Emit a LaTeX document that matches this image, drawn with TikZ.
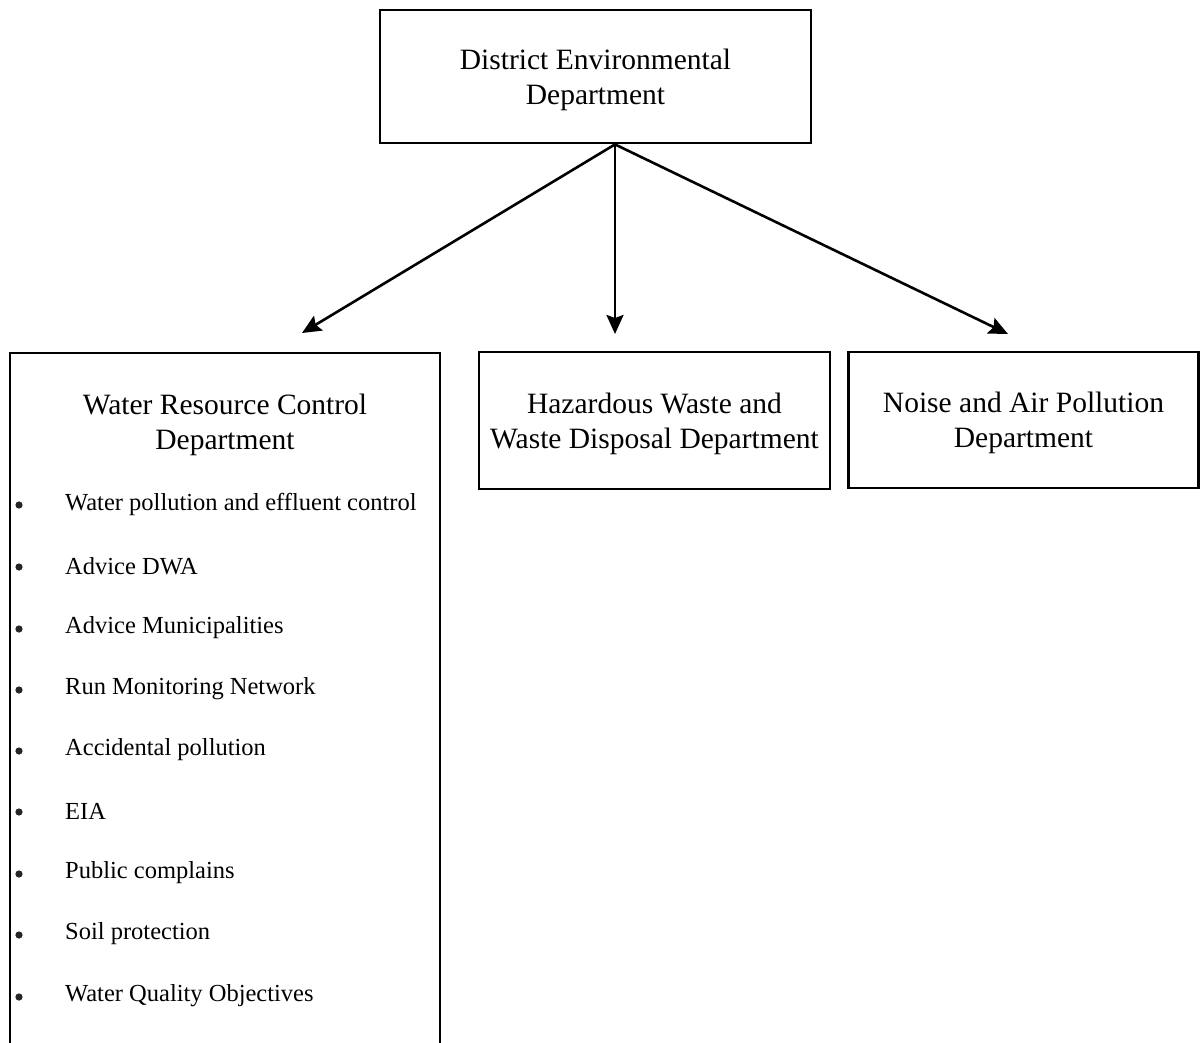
\documentclass[tikz,border=0pt]{standalone}
\usepackage{fontspec}
\setmainfont{Liberation Serif}
\usetikzlibrary{arrows.meta}

\begin{document}
\begin{tikzpicture}[x=1pt,y=-1pt]
		\tikzset{dept/.style={draw=black, line width=2.8pt, inner sep=0pt},
			head/.style={align=center, inner sep=0pt, font=\fontsize{29.5}{35}\selectfont},
			link/.style={line width=2.6pt, -{Stealth[length=19pt,width=17pt,inset=3pt]}},
			duty/.style={anchor=west, inner sep=0pt, font=\fontsize{24.5}{28}\selectfont}}
		\useasboundingbox (0,0) rectangle (1200,1042);
		\clip (0,0) rectangle (1200,1042);
		% boxes
		\node [dept, minimum width=431, minimum height=133] (top) at (595.5,76.5) {};
		\node [dept, minimum width=351, minimum height=137] (hazard) at (654.5,420.5) {};
		\node [dept, minimum width=350, minimum height=136] (noise) at (1023.5,420) {};
		\draw [line width=2.8pt] (10,1080) -- (10,353) -- (440,353) -- (440,1080);
		% titles
		\node [head] (toptext) at ([yshift=-3.5pt]top.center) {District Environmental\\Department};
		\node [head] (hazardtext) at ([yshift=-3.5pt]hazard.center) {Hazardous Waste and\\Waste Disposal Department};
		\node [head] (noisetext) at ([yshift=-3pt]noise.center) {Noise and Air Pollution\\Department};
		\node [head] (water) at (225,424.5) {Water Resource Control\\Department};
		% arrows
		\coordinate (wtip) at (302,333);
		\coordinate (htip) at (615,334);
		\coordinate (ntip) at (1008,334);
		\draw [link] (top.south -| htip) -- (wtip);
		\draw [link] (top.south -| htip) -- (htip);
		\draw [link] (top.south -| htip) -- (ntip);
		% duties
		\foreach \y/\t in {505/Water pollution and effluent control, 567/Advice DWA, 629/Advice Municipalities,
			690/Run Monitoring Network, 751/Accidental pollution, 812/EIA, 874/Public complains,
			935/Soil protection, 997/Water Quality Objectives} {
			\fill [black!85] (19,\y) circle (3.6);
			\node [duty] at (65,\y-1) {\t};
		}
\end{tikzpicture}
\end{document}
